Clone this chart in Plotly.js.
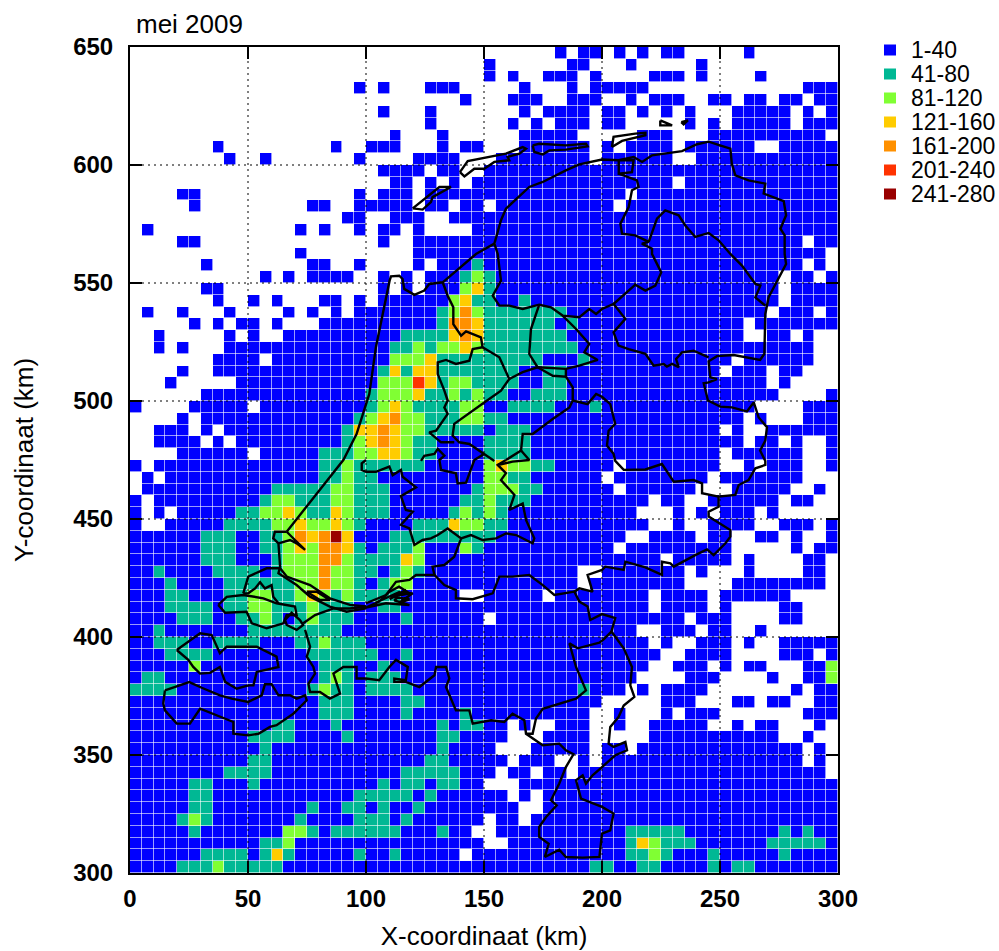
<!DOCTYPE html>
<html><head><meta charset="utf-8">
<script src="https://cdn.plot.ly/plotly-3.0.1.min.js"></script>
<style>html,body{margin:0;padding:0;background:#fff}</style></head>
<body><div id="c" style="width:999px;height:951px"></div>
<script>
// class of each 5 km cell, top row (y 645-650) first; "." = no value
const cellRows = [
".................... ................1.11 .1.1.11.....1.......",
".................... ..........1......11. ..1.....1...........",
".................... ..........1.1..111.1 ....111.1....1......",
"...................1 .1...111.....1...1.1 1111.............111",
".................... ........1...111..111 ..1.111..11.11.11.11",
".................... .1...1.......1.1111. 11.1.1.1...11111.1.1",
".................... .....1......1.1.111. 11.....1.1.11111.111",
".................... ..1...1......11111.. ...111...1111111111.",
".......1.........1.. 111...1.11...111111. 1.1111.111111..11111",
"........1..1.......1 ....1111...11111111. 111111..111111111111",
".................... .1111.11..1111111111 11111111111111111111",
".................... ..11.1.1.11111111111 111111.1111111111111",
"....11.............1 .111.111111111111111 11.11111111111111111",
".....1.........11..1 1111.11.11.111111111 1.111111111111111111",
"..................11 ..111..1111111111111 11111111111111111111",
".1............1.1..1 .11.1....11111111111 11111111111111111111",
"....11.............. .1..1111111111111111 11111111111111111.11",
"..............1..... ....1111111111111111 1111111111111111111.",
"......1........11..1 ....1.11121111111111 11111111111111111.1.",
"...........1.1.1111. .1.1.111232111111111 111111111111111.11.1",
"......11............ .1.1.111342111111111 111111111111111.1111",
".......1..1.1...11.1 .1111113422112111111 111111111111111.1111",
".1..1...1....1.1.1.1 11111123532222222111 11111111111111.111.1",
".....1.1.11.1...1111 11111125542222221211 111111111111.1111111",
"..1.....1.1..1111111 11122224542222222111 111111111111..11.1..",
"..1.1...111111111111 11223233432222222211 111111111111111111..",
".......1111.11111111 11333422222222211121 11111111111.111111..",
"....1..1111111111111 12424422222221122111 1111111111.111.11...",
"...1.....11111111111 13336423322221122111 11111111111111.1....",
"......11111111111111 23334223232211222111 111111111111111....1",
"1....11111.111111111 23432222331122221112 1111111111111....111",
"....1.11111111111112 34533222332211111111 111111111111.1...111",
"..111.1.111111111124 45433222221222111111 1111111111.1..111111",
"..1111.1.11111111123 45432211112222111111 111111111111.11.1..1",
"....111111.111112223 34432211112222111111 1111111111.111111..1",
"1.111111111111112232 22222111113433221111 1.11111111..1.111..1",
".1.11111111111112232 21111111113322111111 .11111111.1111111...",
".1111111111122222332 22111111123332211111 1.111111...11111..1.",
"1.111111111233222332 22111111223222111111 1111.11..111111.11..",
"1.1.1111122334322432 22111112323211111111 111...1.1.111.1.....",
"1..11111222233433432 11112224332211111111 1111..1..1111..111.1",
"11111122211223545741 11222222222111111111 11..1111.11..11.1..1",
"11111122211223435542 12223111321111111111 1.111111111.....1.11",
"11111122211123335532 22243111111111111111 11111.11111.1....11.",
"11211112222123335332 212321111111111111.. 1111111.1...1....11.",
"11121111222222335332 123311111111111111.1 1111111....11111111.",
"11122111223322343232 22211111..11111.1111 1111.1111.111111....",
"11122221223322232221 12211111111111111111 1111.1111.1....11...",
"11112221122321232221 1112111111.111111111 1111111.111....11...",
"11211111112222222211 11111111111111111111 111..111.11..1......",
"11222112222111223222 11111111111111111111 1111.1..111.1..11111",
"11122221111111122222 21121111111111111111 11111..1111....111.1",
"11111311111111112221 12111111111111111111 1111..111.1.11...113",
"12211111111111112321 22211111111111111111 111....111....1..113",
"22221111111111123221 22221111111111111121 11.1.1111.......1.11",
"11111111111111112221 11122111111111111111 .....111...11.11..11",
"11111111111111112221 1112111121111111111. .1...1.111.......111",
"11111111111122111211 111111212211.1..111. .1..11111..1.11...1.",
"11111111112222111121 111111221111...1111. ....11111111111..1..",
"11111111111211111111 11111121111...11111. 11.11111111111111.1.",
"11111111112211111111 111112211111.111..1. 11111111111111111.1.",
"11111111222211111111 11122222111.11.11.11 1111111111111111111.",
"11111221112111111111 1212212211...1111111 11111111111111111111",
"11111221111111111112 222212111111.1.11111 11111111111111111111",
"11111221111111121122 1211211111111..11111 11111111111111111111",
"11112321111111211112 2212111111.11.111111 11111111111111111111",
"11111211111113321222 222111211..111111111 11222221111111121211",
"11111111111223111111 1111111111..11111111 11243222111111222221",
"11111122221242111112 11211111.11111111111 11223211121111121111",
"11112223222221111111 11111111111111111112 21122111121221111111"
];
const classLabels = ["1-40","41-80","81-120","121-160","161-200","201-240","241-280"];
const classMid = [20,60,100,140,180,220,260];
const classColors = ["#0000ff","#00b894","#80ff33","#ffcc00","#ff9000","#ff3300","#990000"];
const xTicks = [0,50,100,150,200,250,300];
const yTicks = [300,350,400,450,500,550,600,650];

// outlines in km (x, y)
const north = [[66.4,444.6],[90.4,475],[96,486],[100,499.4],[101.4,503],[104.2,522.8],[107,536.9],[110,551],[110.6,552.8],[114.1,553.1],[115.5,551.7],[116.2,547.5],[120.5,545],[124.7,546.8],[126.8,549.6],[132.5,550.3],[146.6,562.3],[154.4,566.7],[157.2,576.6],[159.3,581.5],[169.2,590.7],[174.9,592.8],[184.7,597.7],[190.4,600.3],[200,602.3],[207,602],[213.4,603.4],[217,601.3],[221.2,604.1],[233.9,605.9],[240.3,608.8],[245.2,609.9],[250,608.3],[254.4,606.9],[255,600.6],[256.5,595.6],[262.1,593.5],[269.2,592.1],[268.5,587.9],[277,584.7],[278,578.7],[275.6,573],[277.4,570.2],[277.4,562.3],[278,558],[270.6,544],[269.2,536.9],[268.8,520],[267,517.4],[262,518.2],[255.8,519.5],[248.7,519],[245.2,516.8],[245.9,510],[248.7,509.3],[245.2,507.9],[243.1,507.5],[244.9,500.2],[250.1,497.6],[255,497.3],[261.4,495.6],[264.3,499.4],[266.4,493],[269.9,488.9],[269.2,483.2],[267,479],[269.2,474.6],[269.2,472.9],[265,471.5],[262.1,466.5],[257.9,464.4],[256.5,460.2],[249.4,459.5],[249.4,455.2],[245.2,453.1],[245.2,451],[254.4,445.3],[254.4,442.5],[252.3,439.7],[247.3,434.7],[244.5,437.1],[239.5,434.7],[230.4,429.8],[229,431.2],[225.4,431.9],[225.4,426.3],[218.4,429.5],[209.9,431.9],[209.2,428.4],[201.4,429.8],[200,428.4],[193.9,426.3],[196,419.2],[190.4,420.6],[188.3,419.2],[190.4,415],[193.9,412.9],[195,407.2],[200,409.7],[205.6,408],[204,402.3],[209.2,395.2],[212.7,387.3],[212,379.5],[213.7,374.6],[209.2,371],[207,366.1],[203.5,361.9],[202.8,354.8],[204.9,353.4],[209.9,355.5],[210.6,352],[205.6,349.9],[200,344.9],[196,341.4],[193.2,337.9],[191.8,341.4],[189,339.3],[191.1,331.5],[200,328],[204.9,325.2],[203.5,318.1],[200,316.7],[198.9,306.8],[191.8,306.5],[184.7,306.8],[181.9,309.9],[175.8,306.8],[177.4,312.4],[173.4,315.3],[173.4,319.5],[176.3,323.7],[180.8,328.7],[178.4,330.8],[181.9,337.9],[184.7,344.9],[187.9,350.3],[184.7,352],[181.9,354.8],[174.9,354.1],[167.8,359],[167.1,364.7],[162.1,367.5],[158.6,364],[153,364.7],[145.2,363.3],[143.8,368.9],[138.1,368.9],[133.9,378.8],[135.3,382.4],[133.9,387.3],[129.7,387.3],[129,383.8],[122.6,378.8],[116.9,381],[112,381],[112,382.4],[116.9,381.7],[117.7,387.3],[112.7,390.3],[109.9,387.3],[105.6,381.7],[100,382.4],[96,382.4],[96,387.3],[90.4,387.3],[86.2,384.5],[89,376],[84.7,373.9],[80.5,376.7],[76.3,376.7],[75.6,380.2],[78.4,384.5],[77.7,387.3],[74.9,391.7],[76.3,395.9],[74.2,403]];
const limburgLine = [[167.8,359],[170.6,359],[172,365.4],[174.9,369.6],[189,373.9],[193.2,377.4],[189,387.3],[186.2,397.3],[189.7,395.2],[193.2,396],[198.9,397.6],[200.7,399],[204,402.3]];
const texel = [[119.8,581.6],[126.8,587.1],[131.1,590.7],[136,590.7],[128.2,586.4],[127.5,584.3],[124,581.1],[119.8,581.6]];
const vlieland = [[139.8,597],[143.1,601.7],[159.3,604.8],[166.4,607.6],[167.8,606.9],[165,604.8],[160,603.4],[160.7,602],[154.4,601.3],[150.1,598.4],[145.9,598.4],[141.7,595.2],[139.8,597]];
const ameland = [[170.6,608.3],[173.4,609],[184.7,608.3],[193.2,609],[193.9,607.9],[184.7,606.5],[177.7,606.2],[174.9,604.5],[171.3,605.5],[170.6,608.3]];
const schier = [[204.2,607.6],[204.9,611.9],[214.1,613.3],[218.4,613.6],[218.4,612.6],[208.5,610.2],[204.2,607.6]];
const rottum1 = [[224.7,618.9],[229.7,616.8],[224.7,616.8],[224.7,618.9]];
const rottum2 = [[233.6,618.2],[236.4,618.9],[234.6,617.2],[233.6,618.2]];
const lauwers = [[207.1,602],[207.1,596.3],[212.7,597],[213.4,602],[207.1,602]];
const frGr = [[207.1,596.3],[214.8,593.5],[215.5,590.7],[212.7,589.3],[211.3,582.2],[207.8,575.1],[208.5,570.9],[214.1,570.2],[219.8,567.4],[216.9,566.7],[221.2,564.5],[221.2,562.3],[225.1,554.5],[222.6,548.9],[218.4,546.8],[214.1,549.3],[204.9,541.1]];
const grDr = [[219.8,567.4],[221.9,573.7],[223.3,577.3],[226.8,580.8],[232.5,578.7],[235.3,574.4],[239.5,569.5],[245.2,571.2],[249.4,568.1],[254.4,562.3],[259.3,557.4],[265,549.6],[267.1,548.9],[265,543.9],[269.2,540.4]];
const frSouth = [[154.4,566.7],[155.8,562.3],[157.2,551],[153.7,544.6],[156.5,540.4],[160.7,540.4],[166.4,539],[173.4,540.8],[178.4,539.7],[183.3,536.2],[190.4,535.5],[194.6,539],[197.5,536.9],[200,539],[204.9,541.1],[209.9,534.8],[204.9,529.1],[207,523.5],[211.3,522],[218.4,520],[221.9,515],[226.1,515.7],[227.5,514.6],[229.7,515.7],[232.5,514.3],[231.4,517.8],[233.9,520.6],[238.8,521.3],[245.2,518.5]];
const nop = [[173.4,540.8],[169.9,530.5],[169.2,519.9],[172.7,514.3]];
const ovNe = [[183.3,536.2],[189,530.5],[194.6,524.2],[192.5,520.6],[198.2,517.4],[190.4,515],[184.7,513.6],[172.7,514.3],[166.4,512.2],[160.7,509.3]];
const flevoW = [[149.4,522.8],[156.5,518.5],[160.7,509.3],[157.2,504.4],[150.1,499.4],[137.4,490.3],[136.7,485.3],[139.5,482.5],[143.8,481.8],[150.1,477.6],[154.4,474.6]];
const flevoN = [[172.7,514.3],[179.1,510.7],[184.7,510.3],[184.7,513.6]];
const ijssel = [[184.7,510.3],[187.6,505.8],[187.6,500.2],[186.2,497.3],[179.1,492.4],[170.6,486],[166.4,486],[165.7,479],[159.3,475]];
const ovGe = [[187.6,500.2],[193.9,498.7],[197.5,503],[200,501.8],[203.5,498.7],[204.9,493.1],[205.6,490.3],[202.8,487.4],[202.1,481.1],[204.9,477.6],[205.6,474.6],[209.2,470.8],[218.4,471],[225.4,473.3],[230.4,465.8],[238.8,466.5],[242.4,465.1],[242.4,460.9],[249.4,459.5]];
const nhLine = [[132.5,550.3],[134.6,544.6],[137,539.7],[137,532.6],[140.3,527.7],[142.4,529.5],[148.7,527],[149.4,522.8],[145.2,522],[143.8,517.1],[138.1,515.7],[133.9,517.4],[130.4,516.4],[130.4,511.4],[133.2,504.4],[134.6,500.2],[133.2,497.3],[134.6,494.5],[129.7,487.4],[126.8,486.7],[131.8,482.5],[137.4,482.5]];
const utrS = [[123.3,474.6],[124.7,476.8],[129,477.6],[130.4,479.7],[133.2,476.8],[131.1,475],[131.8,470.8],[138.1,469.4],[138.8,465.1],[142.4,465.4],[145.9,475],[150.1,477.6]];
const hollandS = [[100,475],[98.2,473.6],[98.2,470.8],[100,470],[104.2,470],[109.9,472.2],[111.3,468.6],[114.8,470.8],[115.5,467.9],[121.2,463.4],[114.8,459.7],[116.9,453.8],[119.8,453.1],[114.8,447.5],[118.4,446],[120.5,439],[124,441.1],[127.5,441.8],[130.4,443.2],[134.6,446],[140.3,441.8],[144.5,443.2],[149.4,441.1],[155.1,441.8],[159.3,443.9],[163.6,443.2],[170.6,439.7],[171.3,441.8],[167.8,449.6],[166.4,456.6],[160.7,453.8],[162.9,460.2],[157.2,466.5],[159.3,469.4],[155.8,472.9],[159.3,475]];
const arnhemTop = [[155.8,472.9],[162.1,474.3],[169.2,475],[165.7,479]];
const maas = [[100,414.3],[108.5,417.8],[112.7,423.4],[118.4,424.2],[121.2,426.3],[129,426.3],[133.2,422],[138.1,419.9],[138.1,416.4],[145.2,416],[153.7,418.5],[156.5,425.6],[162.1,425.6],[169.2,426.3],[174.9,422],[179.8,417.8],[188.3,419.2]];
const waal = [[129,426.3],[128.2,429.8],[133.2,430.5],[137.4,434],[140.3,441.8]];
const biesbosch = [[104,414.5],[114,419],[119.8,418.5],[114,414.5],[118.4,416],[111.3,417],[118.4,418.5],[114,421.3],[110,419.2],[105.6,415],[100,412.5],[108.5,414.3],[118.4,413.5],[112,415.5],[117,420],[110,416]];
const voorne = [[66.4,444.6],[61.4,444.6],[60.7,441.8],[62.9,439.7],[63.6,429.8],[62.9,427],[70.6,422],[76.3,417.1],[84.7,412.9],[91.8,410.7],[100,412.1]];
const voorneIn = [[62.9,439.7],[67.8,441.1],[70.6,439.7],[74.2,436.9],[69.9,441.1],[66.4,444.6]];
const haringvliet = [[48,418.5],[50.1,425.6],[57.9,429.1],[63.6,429.1],[66.4,425.6],[76.3,422],[84.7,416.4],[93.2,413.6],[100,412.9]];
const flakkee = [[48,418.5],[50.1,418.5],[53,420.6],[55.1,423.2],[57.2,420.6],[60,422],[60.7,417.1],[62.9,414.3]];
const lens = [[74.9,419.2],[79.1,419.2],[84.7,415.7],[80.5,415.7],[74.9,419.2]];
const schouwen = [[37.4,413.6],[41,417],[48,417.8],[56.5,416.4],[62.1,414.3],[69.9,412.9],[70.6,409.3],[66.4,409.3],[65,405.8],[57.9,403.7],[51.6,405.8],[49.4,410.7],[40.3,410.3],[37.4,413.6]];
const volkerak = [[65.7,407.2],[68.5,410.3],[72,407.2],[73.4,405.1],[70.6,403],[66.4,405.1],[65.7,407.2]];
const tholen = [[73.4,405.8],[78.4,409.3],[86.2,412.1],[93.2,412.1],[100,412.9]];
const walcheren = [[19.8,394.5],[24.7,390.3],[26.8,387.3],[29.7,384.5],[33.9,384.8],[38.1,387.3],[40.3,381],[45.2,378.1],[50.1,379.5],[52.3,379.5],[53.7,385.2],[56.5,385.9],[62.1,387.3],[62.9,387.3],[62.1,391.7],[53.7,395.9],[41,395.9],[38.1,393.1],[34.6,400.8],[29.7,401.6],[19.8,394.5]];
const zvlaanderen = [[14.8,377.4],[25.1,380.9],[30.4,378.5],[38.1,375.3],[43.1,373.9],[50.1,372.5],[55.8,375.3],[57.2,380],[60,380],[62.9,375.3],[67.8,375.3],[70.6,373.9],[74.2,375.3],[74.9,373.2],[69.2,367.5],[62.1,362.6],[59.3,361.9],[54.4,359],[50.1,358.3],[43.8,359],[43.8,364],[29.7,369.6],[25.4,363.3],[19.8,363.3],[14.8,368.9],[14.1,371.8],[14.8,377.4]];
const outlines = [north,limburgLine,texel,vlieland,ameland,schier,rottum1,rottum2,lauwers,frGr,grDr,frSouth,nop,ovNe,flevoW,flevoN,ijssel,ovGe,nhLine,utrS,hollandS,arnhemTop,maas,waal,biesbosch,voorne,voorneIn,haringvliet,flakkee,lens,schouwen,volkerak,tholen,walcheren,zvlaanderen];

const rows = cellRows.map(r => r.replace(/ /g,''));
const z = rows.slice().reverse().map(r => Array.from({length:60},(_,i)=>{
  const c = r[i]; return (c && c !== '.') ? classMid[+c-1] : null;
}));
const colorscale = [];
classColors.forEach((col,i)=>{ colorscale.push([i/7,col]); colorscale.push([(i+1)/7,col]); });

const traces = [{type:'heatmap', z, x0:2.5, dx:5, y0:302.5, dy:5, zmin:0, zmax:280, colorscale,
  showscale:false, xgap:0.6, ygap:0.6, hoverinfo:'skip'}];
const gx=[], gy=[];
xTicks.slice(1,-1).forEach(v=>{gx.push(v,v,null);gy.push(300,650,null);});
yTicks.slice(1,-1).forEach(v=>{gx.push(0,300,null);gy.push(v,v,null);});
traces.push({type:'scatter',mode:'lines',x:gx,y:gy,hoverinfo:'skip',showlegend:false,
  line:{color:'#000',width:1,dash:'2px,4px'}});
outlines.forEach(o=>traces.push({type:'scatter',mode:'lines',x:o.map(p=>p[0]),y:o.map(p=>p[1]),
  hoverinfo:'skip',showlegend:false,line:{color:'#000',width:2.4}}));

const FONT='"Liberation Sans", Arial, sans-serif';
const annotations = classLabels.map((t,i)=>({text:t,xref:'paper',yref:'paper',xanchor:'left',yanchor:'middle',
  x:(909-130)/708, y:1-(3+i*24)/826, showarrow:false, font:{family:FONT,size:23,color:'#000'}}));
annotations.push({text:'mei 2009',xref:'paper',yref:'paper',xanchor:'left',yanchor:'middle',
  x:4/708,y:1+23/826,showarrow:false,font:{family:FONT,size:26,color:'#000'}});
const shapes = classColors.map((c,i)=>({type:'rect',xref:'paper',yref:'paper',layer:'above',
  x0:(884-130)/708,x1:(896-130)/708,y0:1-(3+i*24-5.5)/826,y1:1-(3+i*24+5.5)/826,
  fillcolor:c,line:{width:0}}));
const axisCommon = {showgrid:false,zeroline:false,ticks:'inside',ticklen:12,tickwidth:2,tickcolor:'#000',
  showline:true,linewidth:2,linecolor:'#000',mirror:'allticks',layer:'above traces',
  tickfont:{family:FONT,size:24,color:'#000',weight:700}};
const layout = {width:999,height:951,paper_bgcolor:'#fff',plot_bgcolor:'#fff',showlegend:false,
  margin:{l:130,r:161,t:47,b:78},font:{family:FONT},
  xaxis:Object.assign({},axisCommon,{range:[0,300],tickvals:xTicks,ticktext:xTicks.map(String),ticklabelstandoff:3,
    title:{text:'X-coordinaat (km)',font:{family:FONT,size:26,color:'#000'},standoff:19}}),
  yaxis:Object.assign({},axisCommon,{range:[300,650],tickvals:yTicks,ticktext:yTicks.map(String),ticklabelstandoff:10,
    title:{text:'Y-coordinaat (km)',font:{family:FONT,size:26,color:'#000'},standoff:32}}),
  annotations,shapes};
Plotly.newPlot('c',traces,layout,{displayModeBar:false,staticPlot:true});
</script></body></html>
